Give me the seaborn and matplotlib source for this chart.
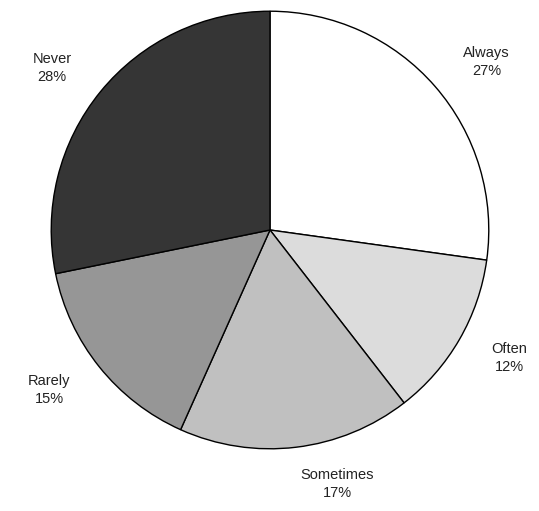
import matplotlib
matplotlib.use("Agg")
import matplotlib.pyplot as plt
import seaborn as sns

# 数据
categories = ["Always", "Often", "Sometimes", "Rarely", "Never"]
shares = [27.2, 12.3, 17.2, 15.1, 28.2]
pct_labels = ["27%", "12%", "17%", "15%", "28%"]
colors = ["#ffffff", "#dcdcdc", "#c0c0c0", "#969696", "#353535"]

sns.set_theme(style="white")
plt.rcParams['font.family'] = ['Liberation Sans', 'DejaVu Sans']

fig = plt.figure(figsize=(5.39, 5.11), dpi=100)
# pie centre ~ (270, 230) px, radius ~219 px
ax = fig.add_axes([51 / 539, (511 - 230 - 219) / 511, 438 / 539, 438 / 511])

labels = [f"{c}\n{p}" for c, p in zip(categories, pct_labels)]
wedges, texts = ax.pie(
    shares,
    labels=labels,
    colors=colors,
    startangle=90,
    counterclock=False,
    labeldistance=1.17,
    wedgeprops=dict(edgecolor="black", linewidth=1.0),
    textprops=dict(fontsize=10.5, color="#222222", linespacing=1.35),
)
for t in texts:
    t.set_multialignment("center")

ax.set_xlim(-1.001, 1.001)
ax.set_ylim(-1.001, 1.001)
ax.set_aspect("auto")
ax.axis("off")

fig.savefig("out.png", dpi=100)
